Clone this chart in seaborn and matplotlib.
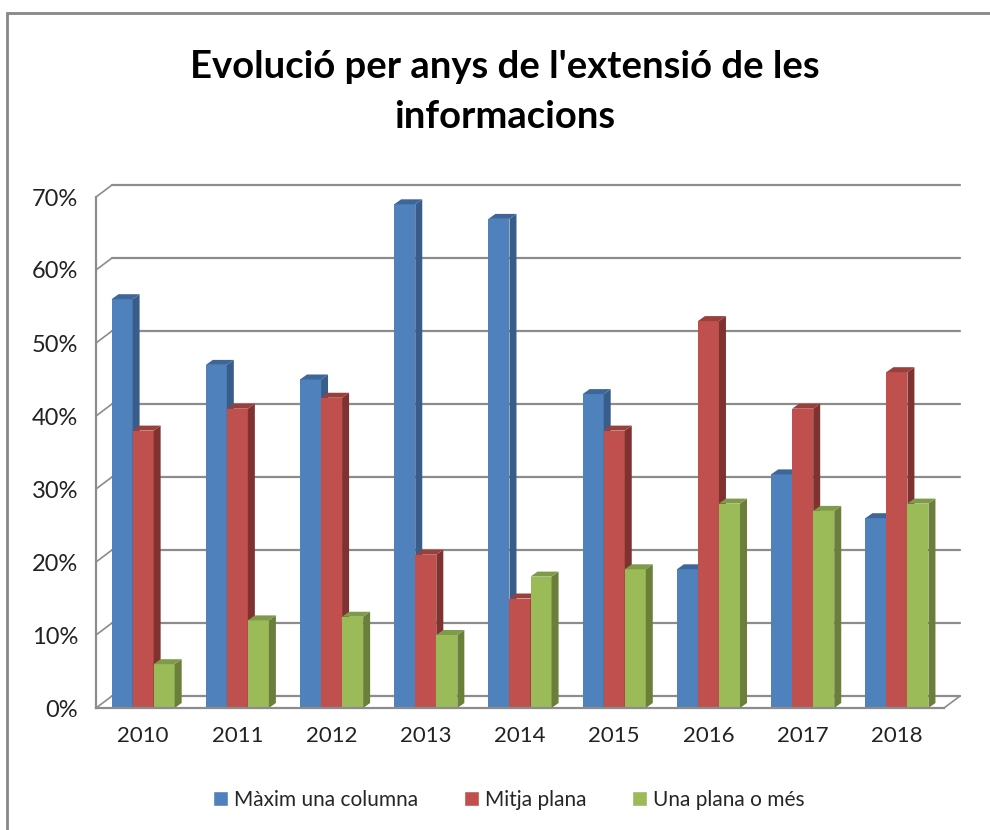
import numpy as np
import pandas as pd
import seaborn as sns
import matplotlib.pyplot as plt
from matplotlib.patches import Polygon, Rectangle
from matplotlib.lines import Line2D

# Data
years = ["2010", "2011", "2012", "2013", "2014", "2015", "2016", "2017", "2018"]
maxim_columna = [0.56, 0.47, 0.45, 0.69, 0.67, 0.43, 0.19, 0.32, 0.26]
mitja_plana = [0.38, 0.41, 0.425, 0.21, 0.15, 0.38, 0.53, 0.41, 0.46]
una_plana = [0.06, 0.12, 0.125, 0.10, 0.18, 0.19, 0.28, 0.27, 0.28]
series_names = ["Màxim una columna", "Mitja plana", "Una plana o més"]

df = pd.DataFrame({
    "Any": years * 3,
    "Serie": [series_names[0]] * 9 + [series_names[1]] * 9 + [series_names[2]] * 9,
    "Valor": maxim_columna + mitja_plana + una_plana,
})

front = ["#4F81BD", "#C0504D", "#9BBB59"]
side = ["#385D8A", "#7F3230", "#6A7F3A"]
top = ["#3E6699", "#99403D", "#7F9A48"]

sns.set_style("white")
plt.rcParams["font.family"] = ["Lato", "DejaVu Sans"]

W, H = 990, 830
fig = plt.figure(figsize=(9.9, 8.3), dpi=100)
ax = fig.add_axes([96 / W, 1 - 708 / H, 848 / W, 511 / H])

sns.barplot(data=df, x="Any", y="Valor", hue="Serie", hue_order=series_names,
            palette=front, width=0.67, saturation=1, ax=ax, legend=False,
            linewidth=0)

ax.set_xlim(-0.5, 8.5)
ax.set_ylim(0, 0.70)

# pixel -> data conversion for the fake depth
px_x = (9 / 848)
px_y = (0.70 / 511)
bdx, bdy = 7 * px_x, 5 * px_y     # bar depth
gdx, gdy = 16 * px_x, 12 * px_y   # back wall offset

# back wall gridlines + left wall diagonals
yt = np.arange(0, 0.71, 0.10)
for y in yt:
    ax.add_line(Line2D([-0.5 + gdx, 8.5 + gdx], [y + gdy, y + gdy],
                       color="#8c8c8c", lw=1.6, zorder=1, clip_on=False))
    ax.add_line(Line2D([-0.5, -0.5 + gdx], [y, y + gdy],
                       color="#8c8c8c", lw=1.2, zorder=1, clip_on=False))
# floor right edge
ax.add_line(Line2D([8.5, 8.5 + gdx], [0, gdy],
                   color="#8c8c8c", lw=1.2, zorder=1, clip_on=False))

# 3D faces for each bar; later series sit in front of earlier ones
for i, cont in enumerate(ax.containers):
    z = 3 + i
    for p in cont.patches:
        p.set_zorder(z)
        x0, w, h = p.get_x(), p.get_width(), p.get_height()
        x1 = x0 + w
        ax.add_patch(Polygon([(x1, 0), (x1 + bdx, bdy), (x1 + bdx, h + bdy), (x1, h)],
                             closed=True, facecolor=side[i], edgecolor="none", zorder=z))
        ax.add_patch(Polygon([(x0, h), (x0 + bdx, h + bdy), (x1 + bdx, h + bdy), (x1, h)],
                             closed=True, facecolor=top[i], edgecolor="none", zorder=z))

sns.despine(ax=ax, top=True, right=True)
for s in ["left", "bottom"]:
    ax.spines[s].set_color("#8c8c8c")
    ax.spines[s].set_linewidth(1.6)
    ax.spines[s].set_zorder(10)
ax.set_yticks(yt)
ax.set_yticklabels([f"{int(round(v * 100))}%" for v in yt], fontsize=17, color="#222222")
ax.set_xticks(np.arange(-0.5, 9, 1), minor=True)
ax.set_xticks(np.arange(9))
ax.set_xticklabels(years, fontsize=16, color="#222222")
ax.tick_params(axis="x", which="major", length=0, pad=13)
ax.tick_params(axis="x", which="minor", length=8, width=1.6, color="#8c8c8c")
ax.tick_params(axis="y", length=8, width=1.6, color="#8c8c8c", pad=5, direction="out")
ax.set_xlabel("")
ax.set_ylabel("")

# Title
fig.text(0.51, 1 - 92 / H, "Evolució per anys de l'extensió de les\ninformacions",
         ha="center", va="center", fontsize=27.5, fontweight="bold",
         linespacing=1.6, color="black")

# Legend
handles = [Rectangle((0, 0), 1, 1, facecolor=c) for c in front]
fig.legend(handles, series_names, loc="center", bbox_to_anchor=(0.514, 1 - 800 / H),
           ncol=3, frameon=False, fontsize=15, handlelength=0.7, handleheight=0.7,
           handletextpad=0.3, columnspacing=2.2)

# Chart border
fig.add_artist(Rectangle((7 / W, -0.05), 1.1, 1 - 13 / H + 0.05, transform=fig.transFigure,
                         fill=False, edgecolor="#888888", lw=2))

fig.savefig("out.png", dpi=100)
